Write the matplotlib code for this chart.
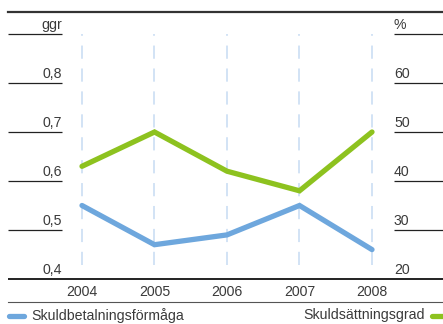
import matplotlib
matplotlib.use("Agg")
import matplotlib.pyplot as plt
from matplotlib.transforms import blended_transform_factory

plt.rcParams['font.family'] = ['Liberation Sans', 'DejaVu Sans']
plt.rcParams['lines.scale_dashes'] = False

years = [2004, 2005, 2006, 2007, 2008]
skuldbetalning = [0.55, 0.47, 0.49, 0.55, 0.46]      # ggr, left axis
skuldsattning = [43, 50, 42, 38, 50]                  # %, right axis
left_ticks = [0.4, 0.5, 0.6, 0.7, 0.8]
left_labels = ["0,4", "0,5", "0,6", "0,7", "0,8"]
right_ticks = [20, 30, 40, 50, 60]
right_labels = ["20", "30", "40", "50", "60"]
left_unit = "ggr"
right_unit = "%"
name_blue = "Skuldbetalningsförmåga"
name_green = "Skuldsättningsgrad"

BLUE = "#6ea7dd"
GREEN = "#8dc21f"
TXT = "#3a3a3a"
FS = 10.2
W, H = 443, 324

fig = plt.figure(figsize=(W / 100, H / 100), dpi=100)
ax = fig.add_axes([0, 0, 1, 1])
ax.set_axis_off()

# pixel layout of the plotting grid
x0_px, dx_px = 82, 72.5
ybase_px, dy_px = 279, 490.0
ax.set_xlim(years[0] - x0_px / dx_px, years[0] + (W - x0_px) / dx_px)
ax.set_ylim(0.4 - (H - ybase_px) / dy_px, 0.4 + ybase_px / dy_px)

def fx(px):
    return px / W

def fy(py):
    return 1 - py / H

ax2 = ax.twinx()
ax2.set_axis_off()
lo, hi = ax.get_ylim()
ax2.set_ylim(20 + (lo - 0.4) * 100, 20 + (hi - 0.4) * 100)

bl = blended_transform_factory(fig.transFigure, ax.transData)
bl2 = blended_transform_factory(fig.transFigure, ax2.transData)

# dashed year guides
ax.vlines(years, 0.428, 0.9, colors="#cfe0f4", linewidth=1.3,
          linestyles=[(0, (9.5, 7.0))], zorder=1)

# left scale
for v, lab in zip(left_ticks + [0.9], left_labels + [left_unit]):
    if v != 0.4:
        ax.plot([fx(8), fx(62)], [v, v], transform=bl, color="#222222",
                lw=0.9, solid_capstyle="butt")
    ax.annotate(lab, (fx(62), v), xycoords=bl, xytext=(0, 1.2),
                textcoords="offset points", ha="right", va="bottom",
                fontsize=FS, color=TXT)

# right scale
for v, lab in zip(right_ticks + [70], right_labels + [right_unit]):
    if v != 20:
        ax2.plot([fx(394), fx(443)], [v, v], transform=bl2, color="#222222",
                 lw=0.9, solid_capstyle="butt")
    ax2.annotate(lab, (fx(394), v), xycoords=bl2, xytext=(0, 1.2),
                 textcoords="offset points", ha="left", va="bottom",
                 fontsize=FS, color=TXT)

# data lines
ax.plot(years, skuldbetalning, color=BLUE, lw=3.8, solid_capstyle="round",
        solid_joinstyle="miter", zorder=3)
ax2.plot(years, skuldsattning, color=GREEN, lw=3.8, solid_capstyle="round",
         solid_joinstyle="miter", zorder=3)

# baseline and year labels
ax.plot([fx(8), fx(443)], [0.4, 0.4], transform=bl, color="#111111", lw=1.3,
        solid_capstyle="butt")
for yv in years:
    fig.text(ax.transData.transform((yv, 0))[0] / W, fy(292), str(yv),
             ha="center", va="center", fontsize=FS, color=TXT)

# top rule
fig.add_artist(plt.Line2D([fx(8), fx(443)], [fy(12), fy(12)], color="#333333",
                          lw=1.6))
# rule above legend
fig.add_artist(plt.Line2D([fx(8), fx(443)], [fy(302), fy(302)], color="#555555",
                          lw=0.8))

# legend
fig.add_artist(plt.Line2D([fx(9), fx(24)], [fy(315.5), fy(315.5)], color=BLUE,
                          lw=3.8, solid_capstyle="round"))
fig.text(fx(31), fy(315.5), name_blue, ha="left", va="center", fontsize=FS,
         color=TXT)
fig.add_artist(plt.Line2D([fx(432), fx(446)], [fy(315.5), fy(315.5)], color=GREEN,
                          lw=3.8, solid_capstyle="round"))
fig.text(fx(425), fy(315.5), name_green, ha="right", va="center", fontsize=FS,
         color=TXT)

fig.savefig("out.png", dpi=100)
